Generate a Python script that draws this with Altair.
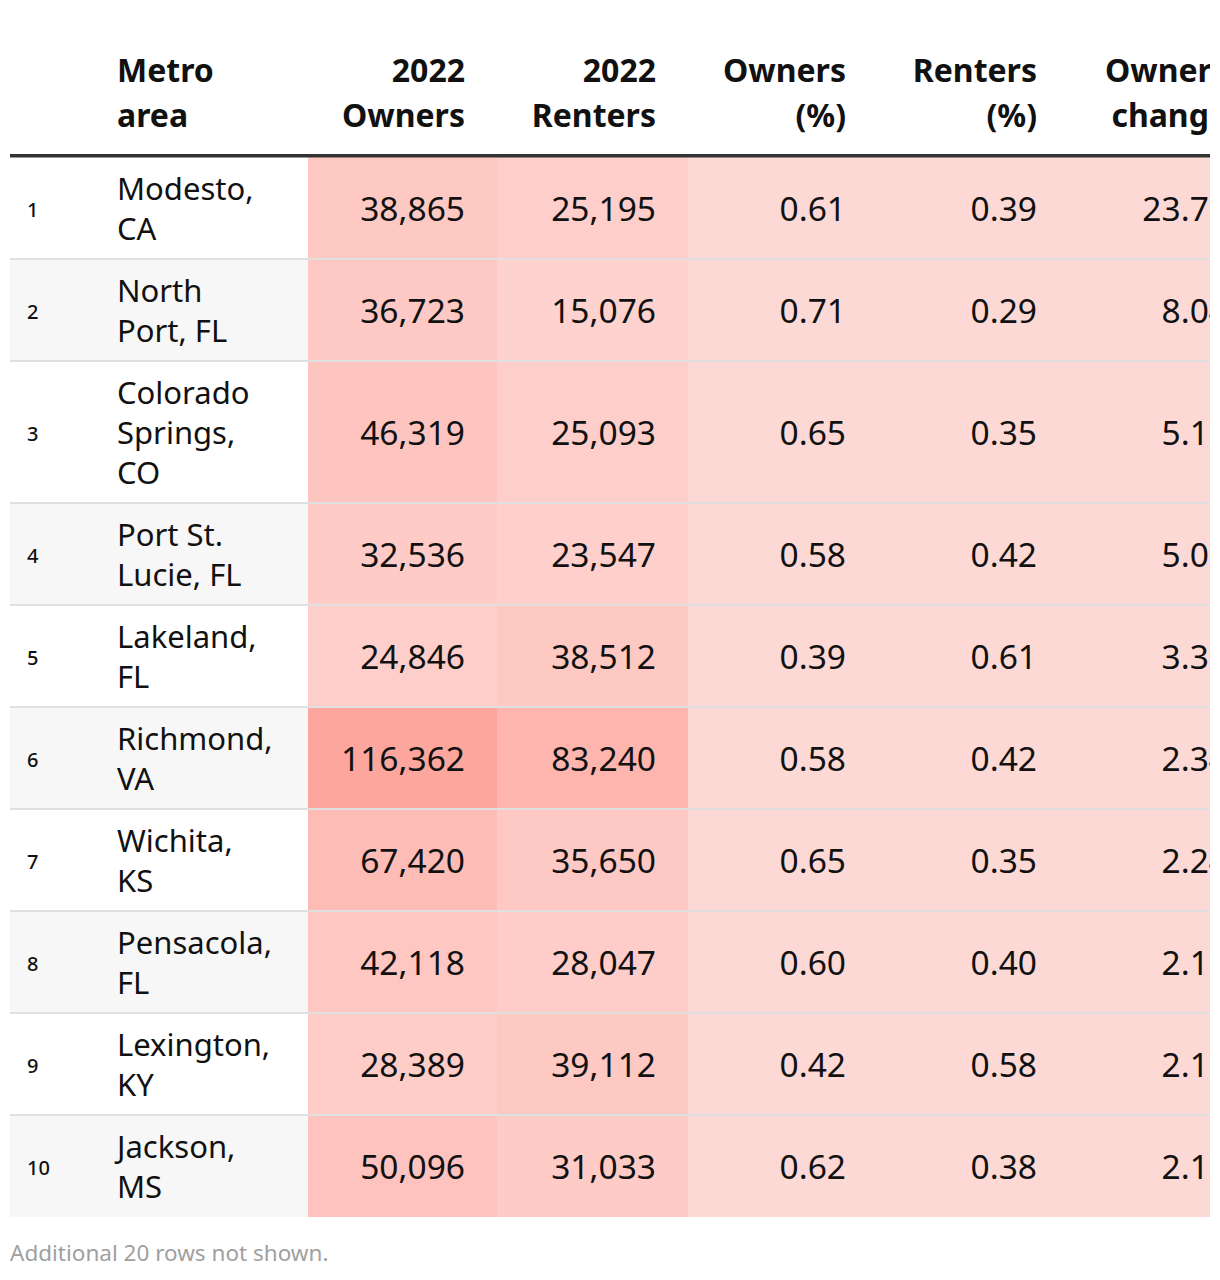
import altair as alt
import pandas as pd

# ---------------- data ----------------
ranks = [1, 2, 3, 4, 5, 6, 7, 8, 9, 10]
metro_lines = [
    ["Modesto,", "CA"],
    ["North", "Port, FL"],
    ["Colorado", "Springs,", "CO"],
    ["Port St.", "Lucie, FL"],
    ["Lakeland,", "FL"],
    ["Richmond,", "VA"],
    ["Wichita,", "KS"],
    ["Pensacola,", "FL"],
    ["Lexington,", "KY"],
    ["Jackson,", "MS"],
]
owners_2022 = [38865, 36723, 46319, 32536, 24846, 116362, 67420, 42118, 28389, 50096]
renters_2022 = [25195, 15076, 25093, 23547, 38512, 83240, 35650, 28047, 39112, 31033]
owners_pct = [0.61, 0.71, 0.65, 0.58, 0.39, 0.58, 0.65, 0.60, 0.42, 0.62]
renters_pct = [0.39, 0.29, 0.35, 0.42, 0.61, 0.42, 0.35, 0.40, 0.58, 0.38]
owner_change = [23.77, 8.04, 5.16, 5.01, 3.36, 2.34, 2.24, 2.11, 2.16, 2.10]

header_metro = ["Metro", "area"]
header_numeric = [
    ["2022", "Owners"],
    ["2022", "Renters"],
    ["Owners", "(%)"],
    ["Renters", "(%)"],
    ["Owners", "change"],
]
footer_text = "Additional 20 rows not shown."

# ---------------- layout ----------------
W = 1200
H = 1262
LEFT_END = 298
num_edges = [298, 487, 678, 868, 1059, 1250]
RIGHT_PAD = 32
IDX_X = 17
METRO_X = 107
ROW_TOP = 149
LINE_H = 40
ROW_EXTRA = 22
TEXT_DY = 3
HDR_LINES_Y = [64, 109]

numeric_cols = [owners_2022, renters_2022, owners_pct, renters_pct, owner_change]
formats = ["{:,.0f}", "{:,.0f}", "{:.2f}", "{:.2f}", "{:.2f}"]

row_bounds = []
y = ROW_TOP
for lines in metro_lines:
    h = LINE_H * len(lines) + ROW_EXTRA
    row_bounds.append((y, y + h))
    y += h

left_bg, cells, seps, metro_txt, idx_txt, num_txt = [], [], [], [], [], []
for i, (y0, y1) in enumerate(row_bounds):
    cy = (y0 + y1) / 2 + TEXT_DY
    left_bg.append({"x0": 0, "x1": LEFT_END, "y0": y0, "y1": y1,
                    "shade": "odd" if i % 2 == 0 else "even"})
    idx_txt.append({"x": IDX_X, "y": cy, "t": str(ranks[i])})
    n = len(metro_lines[i])
    for k, ln in enumerate(metro_lines[i]):
        metro_txt.append({"x": METRO_X, "y": cy + (k - (n - 1) / 2) * LINE_H, "t": ln})
    for c, col in enumerate(numeric_cols):
        v = col[i]
        cells.append({"x0": num_edges[c], "x1": num_edges[c + 1], "y0": y0, "y1": y1, "v": v})
        num_txt.append({"x": num_edges[c + 1] - RIGHT_PAD, "y": cy, "t": formats[c].format(v)})
    if i > 0:
        seps.append({"x0": 0, "x1": W, "y0": y0 - 1, "y1": y0 + 1})

hdr_left = [{"x": METRO_X, "y": HDR_LINES_Y[k], "t": t} for k, t in enumerate(header_metro)]
hdr_right = []
for c, lines in enumerate(header_numeric):
    for k, t in enumerate(lines):
        hdr_right.append({"x": num_edges[c + 1] - RIGHT_PAD, "y": HDR_LINES_Y[k], "t": t})
rule = [{"x0": 0, "x1": W, "y0": 146, "y1": 149.5}]
footer = [{"x": 0, "y": 1246, "t": footer_text}]

vmax = max(max(c) for c in numeric_cols)

xs = alt.Scale(domain=[0, W], nice=False, zero=False)
ys = alt.Scale(domain=[0, H], nice=False, zero=False, reverse=True)


def rect_enc():
    return dict(
        x=alt.X("x0:Q", scale=xs, axis=None),
        x2="x1:Q",
        y=alt.Y("y0:Q", scale=ys, axis=None),
        y2="y1:Q",
    )


def text_enc():
    return dict(
        x=alt.X("x:Q", scale=xs, axis=None),
        y=alt.Y("y:Q", scale=ys, axis=None),
        text="t:N",
    )


FONT = "Noto Sans"

bg = alt.Chart(pd.DataFrame(left_bg)).mark_rect(clip=True).encode(
    **rect_enc(),
    fill=alt.Fill("shade:N", scale=alt.Scale(domain=["odd", "even"], range=["#ffffff", "#f7f7f7"]), legend=None),
)
heat = alt.Chart(pd.DataFrame(cells)).mark_rect(clip=True).encode(
    **rect_enc(),
    color=alt.Color("v:Q", scale=alt.Scale(domain=[0, vmax], range=["#fdd9d6", "#fca69e"]), legend=None),
)
sep = alt.Chart(pd.DataFrame(seps)).mark_rect(clip=True, color="#e0e0e0").encode(**rect_enc())
hrule = alt.Chart(pd.DataFrame(rule)).mark_rect(clip=True, color="#333333").encode(**rect_enc())

t_idx = alt.Chart(pd.DataFrame(idx_txt)).mark_text(
    align="left", baseline="middle", font=FONT, fontSize=20, fontWeight=500, color="#111111", clip=True
).encode(**text_enc())
t_metro = alt.Chart(pd.DataFrame(metro_txt)).mark_text(
    align="left", baseline="middle", font=FONT, fontSize=31, color="#111111", clip=True
).encode(**text_enc())
t_num = alt.Chart(pd.DataFrame(num_txt)).mark_text(
    align="right", baseline="middle", font=FONT, fontSize=33.5, color="#111111", clip=True
).encode(**text_enc())
t_hl = alt.Chart(pd.DataFrame(hdr_left)).mark_text(
    align="left", baseline="middle", font=FONT, fontSize=32, fontWeight="bold", color="#111111", clip=True
).encode(**text_enc())
t_hr = alt.Chart(pd.DataFrame(hdr_right)).mark_text(
    align="right", baseline="middle", font=FONT, fontSize=32, fontWeight="bold", color="#111111", clip=True
).encode(**text_enc())
t_foot = alt.Chart(pd.DataFrame(footer)).mark_text(
    align="left", baseline="middle", font=FONT, fontSize=22.5, color="#a0a0a0", clip=True
).encode(**text_enc())

chart = alt.layer(bg, heat, sep, hrule, t_idx, t_metro, t_num, t_hl, t_hr, t_foot).properties(
    width=W, height=H,
    padding={"left": 2, "top": 0, "right": 0, "bottom": 0},
    autosize=alt.AutoSizeParams(type="none"),
).configure_view(stroke=None)

chart.save("out.html", embed_options={"renderer": "svg", "actions": False})
